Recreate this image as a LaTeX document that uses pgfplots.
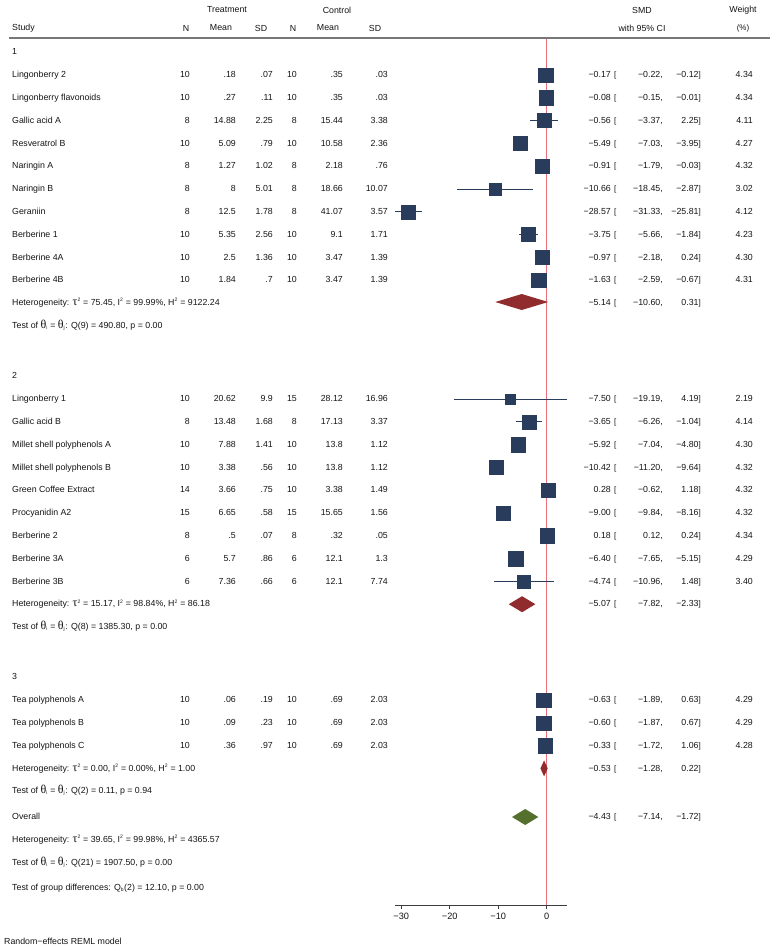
\documentclass[border=0pt]{standalone}
\usepackage{fontspec}
\setmainfont{Liberation Sans}
\newfontfamily\symf{Liberation Serif}
\usepackage{pgfplots}
\usepackage{pgfplotstable}
\pgfplotsset{compat=1.18}

\definecolor{sq}{RGB}{42,60,92}
\definecolor{dred}{RGB}{144,44,46}
\definecolor{dgreen}{RGB}{85,112,45}
\definecolor{rline}{RGB}{232,112,122}
\definecolor{rulegray}{RGB}{120,120,120}
\definecolor{axisgray}{RGB}{60,60,60}
\definecolor{txt}{RGB}{20,20,20}

% y = minus the row position in pixels from the top
\pgfplotstableread{
y      smd     lo      hi     w
-75    -0.17   -0.22   -0.12  4.34
-97.8  -0.08   -0.15   -0.01  4.34
-120.6 -0.56   -3.37    2.25  4.11
-143.4 -5.49   -7.03   -3.95  4.27
-166.2 -0.91   -1.79   -0.03  4.32
-189   -10.66  -18.45  -2.87  3.02
-211.8 -28.57  -31.33  -25.81 4.12
-234.6 -3.75   -5.66   -1.84  4.23
-257.4 -0.97   -2.18    0.24  4.30
-280.2 -1.63   -2.59   -0.67  4.31
-399   -7.50   -19.19   4.19  2.19
-421.8 -3.65   -6.26   -1.04  4.14
-444.6 -5.92   -7.04   -4.80  4.30
-467.4 -10.42  -11.20  -9.64  4.32
-490.2  0.28   -0.62    1.18  4.32
-513   -9.00   -9.84   -8.16  4.32
-535.8  0.18    0.12    0.24  4.34
-558.6 -6.40   -7.65   -5.15  4.29
-581.4 -4.74   -10.96   1.48  3.40
-700   -0.63   -1.89    0.63  4.29
-722.8 -0.60   -1.87    0.67  4.29
-745.6 -0.33   -1.72    1.06  4.28
}\studies

\newcommand\lrow[8]{%
  \node[anchor=mid west] at (12,#1) {#2};
  \node[anchor=mid east] at (190,#1) {#3};
  \node[anchor=mid east] at (236,#1) {#4};
  \node[anchor=mid east] at (273,#1) {#5};
  \node[anchor=mid east] at (297,#1) {#6};
  \node[anchor=mid east] at (343,#1) {#7};
  \node[anchor=mid east] at (388,#1) {#8};}
\newcommand\rrow[5]{%
  \node[anchor=mid east] at (611,#1) {#2};
  \node[anchor=mid west] at (614,#1) {\footnotesize[};
  \node[anchor=mid east] at (663,#1) {#3,};
  \node[anchor=mid east] at (701,#1) {#4\footnotesize]};
  \node[anchor=mid east] at (753,#1) {#5};}
\newcommand\tausq{{\symf\large τ}\textsuperscript{\tiny 2}}
\newcommand\Isq{I\textsuperscript{\tiny 2}}
\newcommand\Hsq{H\textsuperscript{\tiny 2}}
\newcommand\thi{{\symf\large θ}\textsubscript{\tiny i}}
\newcommand\thj{{\symf\large θ}\textsubscript{\tiny j}}

\begin{document}
\begin{tikzpicture}[every node/.style={font=\fontsize{8.8}{10}\selectfont, text=txt, inner sep=0pt}]
\path[use as bounding box] (0pt,0pt) rectangle (777pt,-951pt);

\begin{axis}[
  at={(394.8pt,-905pt)}, anchor=south west,
  x=4.847pt, y=1pt,
  xmin=-31.33, xmax=4.19, ymin=-905, ymax=-38,
  axis x line=bottom, axis y line=none,
  axis line style={draw=axisgray, line width=0.7pt, -},
  xtick={-30,-20,-10,0}, xticklabels={−30,−20,−10,0},
  tick align=outside, major tick length=3.5pt,
  tick style={draw=axisgray, line width=0.7pt},
  xticklabel style={font=\fontsize{9.2}{10}\selectfont, text=txt, inner sep=0pt, yshift=-4.5pt},
  clip=false,
]
% line of no effect
\addplot[rline, line width=1pt] coordinates {(0,-905) (0,-38)};

% study estimates with 95% CI
\addplot[only marks, mark=square*, sq, scatter,
  scatter/use mapped color={draw=sq, fill=sq},
  visualization depends on={\thisrow{w} \as \wt},
  scatter/@pre marker code/.append style={/tikz/mark size={3.43*sqrt(\wt)}},
  error bars/.cd, x dir=both, x explicit, error mark=none,
  error bar style={sq, line width=0.8pt}]
  table[x=smd, y=y,
        x error plus expr=\thisrow{hi}-\thisrow{smd},
        x error minus expr=\thisrow{smd}-\thisrow{lo}] {\studies};

% subgroup and overall diamonds
\addplot[fill=dred, draw=none] coordinates {(-10.60,-302) (-5.14,-294) (0.31,-302) (-5.14,-310) (-10.60,-302)};
\addplot[fill=dred, draw=none] coordinates {(-7.82,-604.2) (-5.07,-596.2) (-2.33,-604.2) (-5.07,-612.2) (-7.82,-604.2)};
\addplot[fill=dred, draw=none] coordinates {(-1.28,-768.4) (-0.53,-760.4) (0.22,-768.4) (-0.53,-776.4) (-1.28,-768.4)};
\addplot[fill=dgreen, draw=none] coordinates {(-7.14,-817) (-4.43,-809) (-1.72,-817) (-4.43,-825) (-7.14,-817)};
\end{axis}

\begin{scope}[x=1pt, y=-1pt]
% header
\node at (227,10) {Treatment};
\node at (337,10) {Control};
\node at (642,10) {SMD};
\node at (743,10) {Weight};
\node[anchor=mid west] at (12,28) {Study};
\node at (186,28) {N};
\node at (221,28) {Mean};
\node at (261,28) {SD};
\node at (293,28) {N};
\node at (328,28) {Mean};
\node at (375,28) {SD};
\node at (642,28) {with 95\% CI};
\node at (743,28) {\footnotesize(\%)};
\draw[rulegray, line width=1.5pt] (9,38) -- (770,38);

% group 1
\node[anchor=mid west] at (12,52) {1};
\lrow{75}{Lingonberry 2}{10}{.18}{.07}{10}{.35}{.03}
\rrow{75}{−0.17}{−0.22}{−0.12}{4.34}
\lrow{97.8}{Lingonberry flavonoids}{10}{.27}{.11}{10}{.35}{.03}
\rrow{97.8}{−0.08}{−0.15}{−0.01}{4.34}
\lrow{120.6}{Gallic acid A}{8}{14.88}{2.25}{8}{15.44}{3.38}
\rrow{120.6}{−0.56}{−3.37}{2.25}{4.11}
\lrow{143.4}{Resveratrol B}{10}{5.09}{.79}{10}{10.58}{2.36}
\rrow{143.4}{−5.49}{−7.03}{−3.95}{4.27}
\lrow{166.2}{Naringin A}{8}{1.27}{1.02}{8}{2.18}{.76}
\rrow{166.2}{−0.91}{−1.79}{−0.03}{4.32}
\lrow{189}{Naringin B}{8}{8}{5.01}{8}{18.66}{10.07}
\rrow{189}{−10.66}{−18.45}{−2.87}{3.02}
\lrow{211.8}{Geraniin}{8}{12.5}{1.78}{8}{41.07}{3.57}
\rrow{211.8}{−28.57}{−31.33}{−25.81}{4.12}
\lrow{234.6}{Berberine 1}{10}{5.35}{2.56}{10}{9.1}{1.71}
\rrow{234.6}{−3.75}{−5.66}{−1.84}{4.23}
\lrow{257.4}{Berberine 4A}{10}{2.5}{1.36}{10}{3.47}{1.39}
\rrow{257.4}{−0.97}{−2.18}{0.24}{4.30}
\lrow{280.2}{Berberine 4B}{10}{1.84}{.7}{10}{3.47}{1.39}
\rrow{280.2}{−1.63}{−2.59}{−0.67}{4.31}
\node[anchor=mid west] at (12,303) {Heterogeneity: \tausq\ = 75.45, \Isq\ = 99.99\%, \Hsq\ = 9122.24};
\node[anchor=mid east] at (611,303) {−5.14};
\node[anchor=mid west] at (614,303) {\footnotesize[};
\node[anchor=mid east] at (663,303) {−10.60,};
\node[anchor=mid east] at (701,303) {0.31\footnotesize]};
\node[anchor=mid west] at (12,325.8) {Test of \thi\ = \thj: Q(9) = 490.80, p = 0.00};

% group 2
\node[anchor=mid west] at (12,376) {2};
\lrow{399}{Lingonberry 1}{10}{20.62}{9.9}{15}{28.12}{16.96}
\rrow{399}{−7.50}{−19.19}{4.19}{2.19}
\lrow{421.8}{Gallic acid B}{8}{13.48}{1.68}{8}{17.13}{3.37}
\rrow{421.8}{−3.65}{−6.26}{−1.04}{4.14}
\lrow{444.6}{Millet shell polyphenols A}{10}{7.88}{1.41}{10}{13.8}{1.12}
\rrow{444.6}{−5.92}{−7.04}{−4.80}{4.30}
\lrow{467.4}{Millet shell polyphenols B}{10}{3.38}{.56}{10}{13.8}{1.12}
\rrow{467.4}{−10.42}{−11.20}{−9.64}{4.32}
\lrow{490.2}{Green Coffee Extract}{14}{3.66}{.75}{10}{3.38}{1.49}
\rrow{490.2}{0.28}{−0.62}{1.18}{4.32}
\lrow{513}{Procyanidin A2}{15}{6.65}{.58}{15}{15.65}{1.56}
\rrow{513}{−9.00}{−9.84}{−8.16}{4.32}
\lrow{535.8}{Berberine 2}{8}{.5}{.07}{8}{.32}{.05}
\rrow{535.8}{0.18}{0.12}{0.24}{4.34}
\lrow{558.6}{Berberine 3A}{6}{5.7}{.86}{6}{12.1}{1.3}
\rrow{558.6}{−6.40}{−7.65}{−5.15}{4.29}
\lrow{581.4}{Berberine 3B}{6}{7.36}{.66}{6}{12.1}{7.74}
\rrow{581.4}{−4.74}{−10.96}{1.48}{3.40}
\node[anchor=mid west] at (12,604.2) {Heterogeneity: \tausq\ = 15.17, \Isq\ = 98.84\%, \Hsq\ = 86.18};
\node[anchor=mid east] at (611,604.2) {−5.07};
\node[anchor=mid west] at (614,604.2) {\footnotesize[};
\node[anchor=mid east] at (663,604.2) {−7.82,};
\node[anchor=mid east] at (701,604.2) {−2.33\footnotesize]};
\node[anchor=mid west] at (12,627) {Test of \thi\ = \thj: Q(8) = 1385.30, p = 0.00};

% group 3
\node[anchor=mid west] at (12,677) {3};
\lrow{700}{Tea polyphenols A}{10}{.06}{.19}{10}{.69}{2.03}
\rrow{700}{−0.63}{−1.89}{0.63}{4.29}
\lrow{722.8}{Tea polyphenols B}{10}{.09}{.23}{10}{.69}{2.03}
\rrow{722.8}{−0.60}{−1.87}{0.67}{4.29}
\lrow{745.6}{Tea polyphenols C}{10}{.36}{.97}{10}{.69}{2.03}
\rrow{745.6}{−0.33}{−1.72}{1.06}{4.28}
\node[anchor=mid west] at (12,768.4) {Heterogeneity: \tausq\ = 0.00, \Isq\ = 0.00\%, \Hsq\ = 1.00};
\node[anchor=mid east] at (611,768.4) {−0.53};
\node[anchor=mid west] at (614,768.4) {\footnotesize[};
\node[anchor=mid east] at (663,768.4) {−1.28,};
\node[anchor=mid east] at (701,768.4) {0.22\footnotesize]};
\node[anchor=mid west] at (12,791.2) {Test of \thi\ = \thj: Q(2) = 0.11, p = 0.94};

% overall
\node[anchor=mid west] at (12,817) {Overall};
\node[anchor=mid east] at (611,817) {−4.43};
\node[anchor=mid west] at (614,817) {\footnotesize[};
\node[anchor=mid east] at (663,817) {−7.14,};
\node[anchor=mid east] at (701,817) {−1.72\footnotesize]};
\node[anchor=mid west] at (12,840) {Heterogeneity: \tausq\ = 39.65, \Isq\ = 99.98\%, \Hsq\ = 4365.57};
\node[anchor=mid west] at (12,863) {Test of \thi\ = \thj: Q(21) = 1907.50, p = 0.00};
\node[anchor=mid west] at (12,888) {Test of group differences: Q\textsubscript{\tiny b}(2) = 12.10, p = 0.00};

\node[anchor=mid west] at (4,942) {Random−effects REML model};
\end{scope}
\end{tikzpicture}
\end{document}
